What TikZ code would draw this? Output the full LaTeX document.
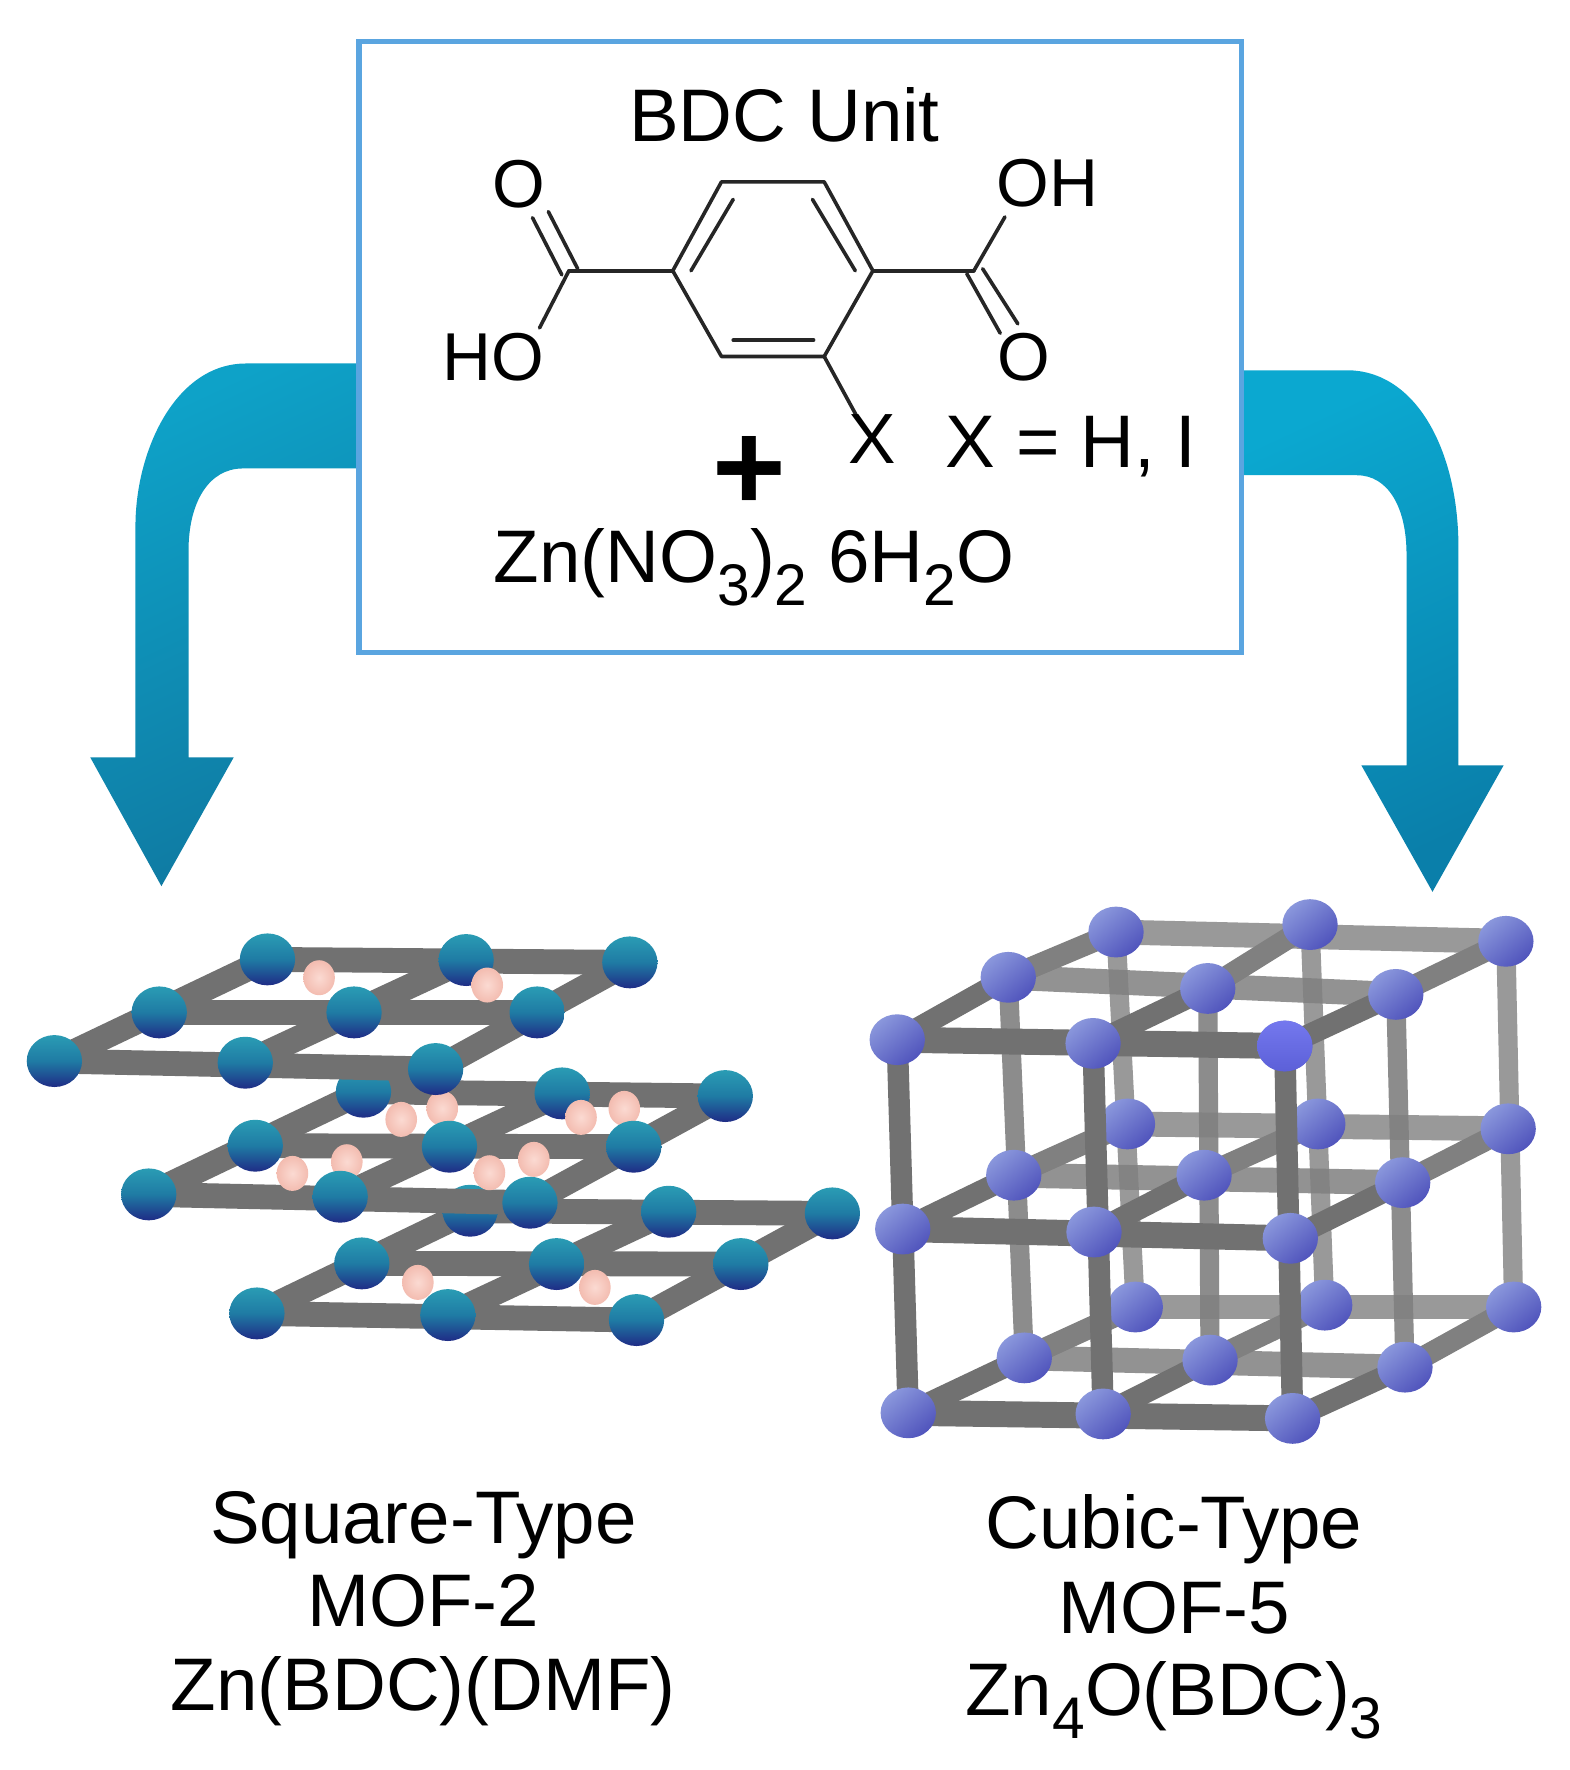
\documentclass[tikz,border=0pt]{standalone}
\usepackage{fontspec}
\setmainfont{Liberation Sans}
\usetikzlibrary{shapes.geometric}
\definecolor{boxblue}{HTML}{5AA5E0}
\definecolor{barfront}{HTML}{717171}
\definecolor{barmid}{HTML}{808080}
\definecolor{barback}{HTML}{8F8F8F}
\definecolor{ztop}{HTML}{2A9CB4}
\definecolor{zbot}{HTML}{1F2C86}
\definecolor{zmid}{HTML}{1F7BA4}
\definecolor{cubeA}{HTML}{8A97DC}
\definecolor{cubeB}{HTML}{5054BC}
\definecolor{cubeC}{HTML}{7478EE}
\definecolor{cubeD}{HTML}{5C60D8}
\definecolor{pinkA}{HTML}{FBDAD2}
\definecolor{pinkB}{HTML}{F3BCB0}
\definecolor{arrA}{HTML}{0EA2C8}
\definecolor{arrB}{HTML}{0F7AA2}
\definecolor{arrC}{HTML}{0BA8D0}
\definecolor{arrD}{HTML}{0A7FAA}
\tikzset{
  lab/.style={inner sep=0pt,outer sep=0pt,anchor=base,text=black,font=\fontsize{66}{70}\selectfont},
  atom/.style={lab,font=\fontsize{60}{64}\selectfont},
  bond/.style={line width=3.2pt,draw=black!85,line cap=round},
  zball/.style={ellipse,inner sep=0pt,minimum width=49pt,minimum height=46pt,draw=none,
     top color=ztop,bottom color=zbot,middle color=zmid},
  cball/.style={ellipse,inner sep=0pt,minimum width=49pt,minimum height=45pt,draw=none,
     top color=cubeA,bottom color=cubeB,shading angle=40},
  cballhi/.style={cball,top color=cubeC,bottom color=cubeD},
  pball/.style={ellipse,inner sep=0pt,minimum width=28pt,minimum height=31pt,draw=none,
     inner color=pinkA,outer color=pinkB},
  flatbar/.style={line width=22pt,draw=barfront},
  diagbar/.style={line width=22pt,draw=barfront},
}
\newcommand{\sbs}[1]{\raisebox{-20pt}{\fontsize{52}{52}\selectfont #1}}
\begin{document}
\begin{tikzpicture}[x=1pt,y=-1pt]
\useasboundingbox (0,0) rectangle (1390,1568);
\fill[white] (0,0) rectangle (1390,1568);

% ---- arrows
\coordinate (la1) at (318,322); \coordinate (la2) at (318,415);
\coordinate (ra1) at (1100,328); \coordinate (ra2) at (1100,421);
\path[top color=arrA,bottom color=arrB,shading angle=25,draw=none]
  (la1) -- (218,322) .. controls (155,322) and (120,400) .. (120,466) -- (120,671)
  -- (80,671) -- (143,785) -- (207,671) -- (167,671) -- (167,488)
  .. controls (167,445) and (185,415) .. (215,415) -- (la2) -- cycle;
\path[top color=arrC,bottom color=arrD,shading angle=25,draw=none]
  (ra1) -- (1193,328) .. controls (1255,328) and (1292,400) .. (1292,485) -- (1292,678)
  -- (1332,678) -- (1269,790) -- (1206,678) -- (1246,678) -- (1246,491)
  .. controls (1246,450) and (1230,421) .. (1202,421) -- (ra2) -- cycle;

% ---- box
\node[draw=boxblue,fill=white,line width=4.5pt,minimum width=782pt,minimum height=541pt,inner sep=0pt] (box) at (709,307.5) {};

% ---- molecule
\begin{scope}[shift={(301.2,26.6)},x=0.5199pt,y=-0.3615pt]
\coordinate (r1) at (650,372); \coordinate (r2) at (825,372); \coordinate (r3) at (908,590);
\coordinate (r4) at (825,800); \coordinate (r5) at (650,800); \coordinate (r6) at (567,590);
\coordinate (i1a) at (598,590); \coordinate (i1b) at (670,415);
\coordinate (i2a) at (805,415); \coordinate (i2b) at (878,590);
\coordinate (i3a) at (670,760); \coordinate (i3b) at (807,760);
\coordinate (cl) at (390,590); \coordinate (cr) at (1080,590);
\coordinate (lo1) at (405,585); \coordinate (lo2) at (355,445);
\coordinate (lo3) at (378,600); \coordinate (lo4) at (328,460);
\coordinate (lh) at (340,730);
\coordinate (rh) at (1133,458);
\coordinate (ro1) at (1068,597); \coordinate (ro2) at (1125,743);
\coordinate (ro3) at (1095,585); \coordinate (ro4) at (1155,720);
\coordinate (xb) at (880,945);
\end{scope}
\draw[bond,line join=round] (r1) -- (r2) -- (r3) -- (r4) -- (r5) -- (r6) -- cycle;
\draw[bond] (i1a) -- (i1b);
\draw[bond] (i2a) -- (i2b);
\draw[bond] (i3a) -- (i3b);
\draw[bond] (r6) -- (cl);
\draw[bond] (r3) -- (cr);
\draw[bond] (lo1) -- (lo2);
\draw[bond] (lo3) -- (lo4);
\draw[bond] (cl) -- (lh);
\draw[bond] (cr) -- (rh);
\draw[bond] (ro1) -- (ro2);
\draw[bond] (ro3) -- (ro4);
\draw[bond] (r4) -- (xb);

\node[lab] (title) at (695,125) {BDC Unit};
\node[atom] (oa) at (460,184) {O};
\node[atom] (oh) at (928,183) {OH};
\node[atom] (ho) at (437,337) {HO};
\node[atom] (ob) at (907,337) {O};
\node[atom,font=\fontsize{63}{66}\selectfont] (x) at (773,411) {X};
\node[lab,anchor=base west] (xeq) at (838,414) {X = H, I};
\node[lab,font=\fontsize{86}{86}\selectfont\bfseries,scale=1.3] (plus) at (664,452) {+};
\node[lab] (zn) at (668,516) {Zn(NO\sbs{3})\sbs{2} 6H\sbs{2}O};

% ---- captions
\node[lab] (c1) at (375,1367) {Square-Type};
\node[lab] (c2) at (375,1441) {MOF-2};
\node[lab] (c3) at (375,1515) {Zn(BDC)(DMF)};
\node[lab] (d1) at (1040,1372) {Cubic-Type};
\node[lab] (d2) at (1040,1447) {MOF-5};
\node[lab] (d3) at (1040,1520) {Zn\sbs{4}O(BDC)\sbs{3}};

% ---- square-type lattice
\begin{scope}[shift={(0,779.6)},x=0.4916pt,y=-0.2953pt]
\foreach \n/\a/\b in {
 Aba/482/238,Abb/840/240,Abc/1135/247,Ama/287/397,Amb/638/397,Amc/968/397,Afa/98/543,Afb/442/548,Afc/785/567,
 Bba/655/635,Bbb/1013/640,Bbc/1307/648,Bma/460/797,Bmb/810/800,Bmc/1142/800,Bfa/268/943,Bfb/613/950,Bfc/955/968,
 Cba/847/992,Cbb/1205/995,Cbc/1500/1000,Cma/652/1150,Cmb/1003/1152,Cmc/1335/1152,Cfa/463/1300,Cfb/807/1305,Cfc/1147/1320}
 {\coordinate (\n) at (\a,\b);}
\foreach \n/\a/\b in {
 pa/575/293,pb/878/315,
 pc/723/718,pd/797/685,pe/1047/712,pf/1125/685,pg/527/880,ph/625/845,pi/882/878,pj/962/838,
 pk/753/1207,pl/1072/1222}
 {\coordinate (\n) at (\a,\b);}
\end{scope}
\foreach \L/\P in {C/{pk,pl},B/{pc,pd,pe,pf,pg,ph,pi,pj},A/{pa,pb}}{
  \foreach \c in {a,b,c}{\draw[diagbar] (\L f\c) -- (\L b\c);}
  \foreach \r in {b,m,f}{\draw[flatbar] (\L\r a) -- (\L\r c);}
  \foreach \c in {a,b,c}{\node[zball] (n\L b\c) at (\L b\c) {};}
  \foreach \p in \P {\node[pball] (n\p) at (\p) {};}
  \foreach \c in {a,b,c}{\node[zball] (n\L m\c) at (\L m\c) {};}
  \foreach \c in {a,b,c}{\node[zball] (n\L f\c) at (\L f\c) {};}
}

% ---- cubic lattice
\begin{scope}[shift={(753,779.6)},x=0.4063pt,y=-0.3289pt]
\foreach \n/\a/\b in {
 Tfa/103/430,Tfb/530/440,Tfc/948/447,Tma/345/262,Tmb/780/292,Tmc/1190/308,Tba/580/140,Tbb/1003/120,Tbc/1430/165,
 Mfa/115/940,Mfb/532/948,Mfc/960/965,Mma/357/795,Mmb/772/795,Mmc/1205/815,Mba/605/657,Mbb/1020/657,Mbc/1435/670,
 Ufa/127/1435,Ufb/552/1438,Ufc/965/1450,Uma/380/1287,Umb/785/1293,Umc/1210/1312,Uba/622/1150,Ubb/1035/1145,Ubc/1447/1150}
 {\coordinate (\n) at (\a,\b);}
\end{scope}
% back plane
\foreach \l in {T,M,U}{\draw[line width=22pt,draw=barback,draw opacity=.9] (\l ba) -- (\l bc);}
\foreach \c in {a,b,c}{\draw[line width=17pt,draw=barback,draw opacity=.9] (Tb\c) -- (Ub\c);}
\foreach \l in {T,M,U}\foreach \c in {a,b,c}{\draw[line width=19pt,draw=barmid] (\l b\c) -- (\l m\c);}
\foreach \l in {T,M,U}\foreach \c in {a,b,c}{\node[cball] (n\l b\c) at (\l b\c) {};}
% middle plane
\foreach \l in {T,M,U}{\draw[line width=22pt,draw=barmid,draw opacity=.85] (\l ma) -- (\l mc);}
\foreach \c in {a,b,c}{\draw[line width=17pt,draw=barmid,draw opacity=.9] (Tm\c) -- (Um\c);}
\foreach \l in {T,M,U}\foreach \c in {a,b,c}{\draw[line width=19pt,draw=barfront] (\l m\c) -- (\l f\c);}
\foreach \l in {T,M,U}\foreach \c in {a,b,c}{\node[cball] (n\l m\c) at (\l m\c) {};}
% front plane
\foreach \l in {T,M,U}{\draw[line width=23pt,draw=barfront] (\l fa) -- (\l fc);}
\foreach \c in {a,b,c}{\draw[line width=19pt,draw=barfront] (Tf\c) -- (Uf\c);}
\foreach \l in {T,M,U}\foreach \c in {a,b,c}{\node[cball] (n\l f\c) at (\l f\c) {};}
\node[cballhi] (hi) at (Tfc) {};
\end{tikzpicture}
\end{document}
